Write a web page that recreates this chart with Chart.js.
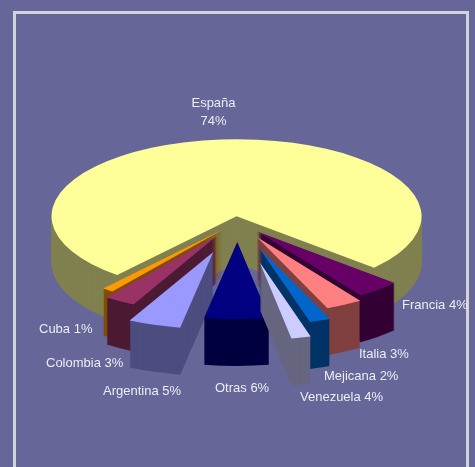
<!DOCTYPE html>
<html>
<head>
<meta charset="utf-8">
<style>
html,body{margin:0;padding:0;width:475px;height:467px;overflow:hidden;background:#666699;}
#frame{position:absolute;left:13px;top:11px;width:450px;height:470px;border:3px solid #D4D4D8;}
#wrap{position:absolute;left:0;top:0;width:475px;height:467px;}
</style>
<script src="https://cdn.jsdelivr.net/npm/chart.js@4/dist/chart.umd.js"></script>
</head>
<body>
<div id="frame"></div>
<div id="wrap"><canvas id="c" width="475" height="467"></canvas></div>
<script>
// Categories, in clockwise order starting at España
const categories = ["España","Francia","Italia","Mejicana","Venezuela","Otras","Argentina","Colombia","Cuba"];
// Printed percentage labels
const percentLabels = ["74%","4%","3%","2%","4%","6%","5%","3%","1%"];
// Slice sizes as drawn in the picture (share of the full circle)
const sliceShares = [75.5,3.9,3.2,1.8,1.7,5.6,4.6,2.7,1.0];
// How far each slice is pulled out of the pie
const explode = [14,30,41,66,100,48,76,39,24];
const topColors = ["#FFFF99","#660066","#FF8080","#0066CC","#CCCCFF","#000080","#9999FF","#993366","#FF9900"];
const sideColors = ["#808050","#330033","#804040","#003366","#666680","#000040","#4D4D80","#4D1A33","#804D00"];
const drawOrder = [0,1,8,7,2,6,3,5,4];

const SQUASH = 0.416, DEPTH = 47, CX = 237.5, CY = 222;
const LABEL_COLOR = "#ECECF4";
const LABEL_FONT = "13px 'Liberation Sans', Arial, sans-serif";
const labelAnchors = [
  [213.5,103],[402,305],[359,354],[324,376],[300,397],[215,388],[103,391],[46,363],[39,329]
];

function tracePath(ctx, p){
  ctx.beginPath();
  ctx.moveTo(p.x,p.y);
  ctx.arc(p.x,p.y,p.outerRadius,p.startAngle,p.endAngle);
  ctx.closePath();
}
const pie3d = {
  id:"pie3d",
  beforeDatasetDraw(chart,args){
    const ctx = chart.ctx, arcs = args.meta.data;
    drawOrder.forEach(i=>{
      const p = arcs[i].getProps(["x","y","startAngle","endAngle","outerRadius"],true);
      const mid = (p.startAngle+p.endAngle)/2;
      const ox = Math.cos(mid)*explode[i], oy = Math.sin(mid)*explode[i];
      const place = d=>{
        ctx.save();
        ctx.translate(CX,CY+d);
        ctx.scale(1,SQUASH);
        ctx.translate(ox-p.x,oy-p.y);
        tracePath(ctx,p);
        ctx.restore();
      };
      ctx.fillStyle = sideColors[i];
      for(let d=DEPTH;d>0;d--){ place(d); ctx.fill(); }
      ctx.fillStyle = topColors[i];
      place(0); ctx.fill();
    });
    return false;
  },
  afterDatasetsDraw(chart){
    const ctx = chart.ctx;
    ctx.save();
    ctx.fillStyle = LABEL_COLOR;
    ctx.font = LABEL_FONT;
    ctx.textBaseline = "middle";
    categories.forEach((name,i)=>{
      const [x,y] = labelAnchors[i];
      if(i===0){
        ctx.textAlign = "center";
        ctx.fillText(name,x,y);
        ctx.fillText(percentLabels[i],x,y+18);
      }else{
        ctx.textAlign = "left";
        ctx.fillText(name+" "+percentLabels[i],x,y);
      }
    });
    ctx.restore();
  }
};

new Chart(document.getElementById("c"),{
  type:"pie",
  data:{labels:categories,datasets:[{data:sliceShares,backgroundColor:topColors,borderWidth:0}]},
  options:{
    responsive:false,
    animation:false,
    rotation:220.2,
    radius:185,
    plugins:{legend:{display:false},tooltip:{enabled:false}}
  },
  plugins:[pie3d]
});
</script>
</body>
</html>
